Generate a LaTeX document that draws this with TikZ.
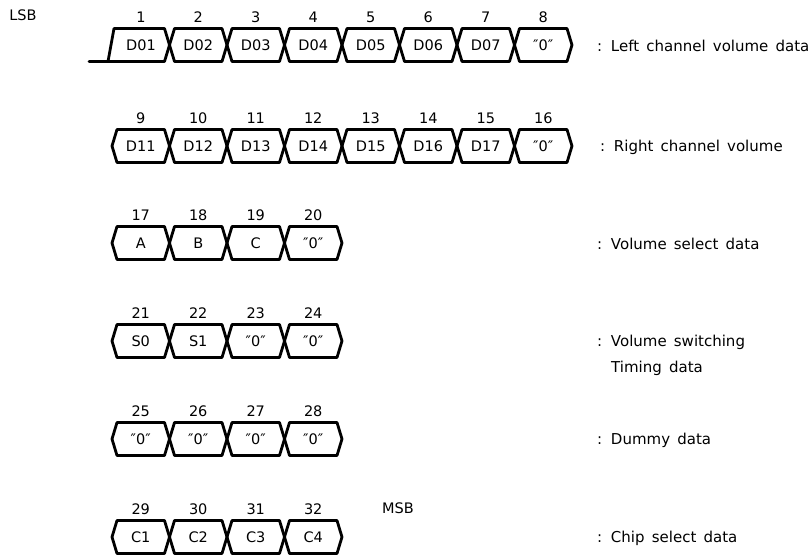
\documentclass[tikz,border=0pt]{standalone}
\usepackage{fontspec}
\usepackage{tikz}
\usetikzlibrary{positioning}
\newfontfamily\diafont{DejaVu Sans}
\newfontfamily\notefont[WordSpace=1.5]{DejaVu Sans}
\newcommand{\cellw}{57.5}
\newcommand{\cellh}{16.5}
\newcommand{\edgew}{5}
\tikzset{
  bus line/.style={line width=2.8pt,line join=round},
  cell text/.style={font=\diafont\fontsize{14.5}{17}\selectfont,inner sep=1pt},
  bit label/.style={font=\diafont\fontsize{14.5}{17}\selectfont,inner sep=1pt},
  row note/.style={font=\notefont\fontsize{15}{18}\selectfont,inner sep=0pt,anchor=west}
}
% one bus cell: left x, centre y, bit number, text
\newcommand{\BusCell}[4]{%
  \draw[bus line] (#1,#2) -- ++(\edgew,-\cellh) -- ++(\cellw-2*\edgew,0)
     -- ++(\edgew,\cellh) -- ++(-\edgew,\cellh) -- ++(-\cellw+2*\edgew,0) -- cycle;
  \node[cell text] (c#3) at (#1+\cellw/2,#2) {#4};
  \node[bit label] (n#3) at (#1+\cellw/2,#2-28) {#3};}
% a row of cells: left x, centre y, first bit, texts
\newcommand{\BusRow}[4]{%
  \foreach \t [count=\k from 0, evaluate=\k as \x using #1+\k*\cellw,
               evaluate=\k as \b using int(#3+\k)] in {#4} {\BusCell{\x}{#2}{\b}{\t}}}

\begin{document}
\begin{tikzpicture}[x=1pt,y=-1pt,line cap=round]
  \useasboundingbox (0,0) rectangle (812,557);

  \node[bit label] (lsb) at (23,15) {LSB};

  % first cell starts from low level
  \draw[bus line] (89,45+\cellh) -- (108,45+\cellh) -- (114,45-\cellh)
     -- (169.5-\edgew,45-\cellh) -- (169.5,45) -- (169.5-\edgew,45+\cellh) -- cycle;
  \node[cell text] (c1) at (141,45) {D01};
  \node[bit label] (n1) at (141,17) {1};
  \BusRow{169.5}{45}{2}{D02,D03,D04,D05,D06,D07,″0″}
  \BusRow{112}{146}{9}{D11,D12,D13,D14,D15,D16,D17,″0″}
  \BusRow{112}{243}{17}{A,B,C,″0″}
  \BusRow{112}{341}{21}{S0,S1,″0″,″0″}
  \BusRow{112}{439}{25}{″0″,″0″,″0″,″0″}
  \BusRow{112}{537}{29}{C1,C2,C3,C4}

  \node[bit label] (msb) at (398,508) {MSB};

  \node[row note] (note1) at (597,46) {: Left channel volume data};
  \node[row note] (note2) at (600,147) {: Right channel volume};
  \node[row note] (note3) at (597,244) {: Volume select data};
  \node[row note] (note4) at (597,342) {: Volume switching};
  \node[row note] (note4b) at (611,368) {Timing data};
  \node[row note] (note5) at (597,440) {: Dummy data};
  \node[row note] (note6) at (597,538) {: Chip select data};
\end{tikzpicture}
\end{document}
